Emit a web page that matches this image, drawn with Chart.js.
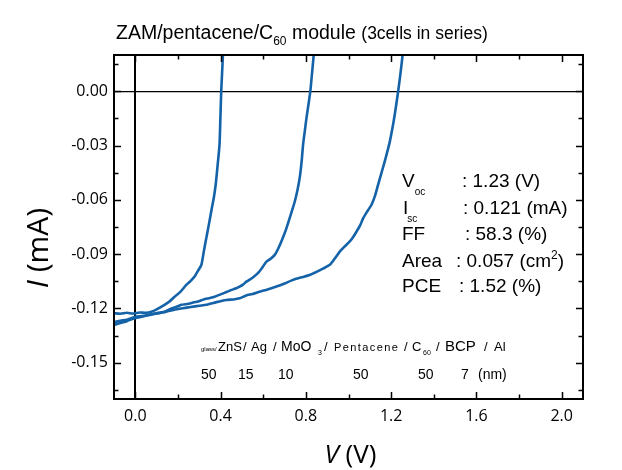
<!DOCTYPE html>
<html><head><meta charset="utf-8">
<script src="https://cdn.jsdelivr.net/npm/chart.js@4.4.0/dist/chart.umd.min.js"></script>
<style>html,body{margin:0;padding:0;background:#fff;}#wrap{width:622px;height:470px;}</style>
</head><body><div id="wrap"><canvas id="c" width="622" height="470"></canvas></div>
<script>
// ---- data ----
const xTicks = [0.0, 0.4, 0.8, 1.2, 1.6, 2.0];
const yTicks = [-0.15, -0.12, -0.09, -0.06, -0.03, 0.00];

// 1 cell
const voltage1 = [-0.10,-0.07,-0.04,-0.01,0.02,0.05,0.075,0.10,0.137,0.16,0.184,0.21,0.239,0.26,0.278,0.295,0.310,0.322,0.333,0.346,0.359,0.368,0.377,0.386,0.395,0.399,0.403,0.407,0.411,0.415];
const current1 = [-0.1226,-0.1229,-0.1224,-0.1228,-0.1222,-0.1224,-0.1218,-0.1205,-0.1180,-0.1162,-0.1135,-0.1110,-0.1070,-0.1048,-0.1024,-0.0990,-0.0959,-0.0880,-0.0811,-0.0730,-0.0645,-0.0590,-0.0516,-0.0410,-0.0295,-0.0150,0.0000,0.0100,0.0203,0.0300];
// 2 cells
const voltage2 = [-0.10,-0.07,-0.04,-0.01,0.004,0.03,0.059,0.09,0.12,0.137,0.17,0.20,0.216,0.25,0.275,0.294,0.32,0.35,0.372,0.40,0.43,0.450,0.47,0.489,0.505,0.521,0.55,0.575,0.595,0.615,0.635,0.654,0.670,0.685,0.705,0.724,0.735,0.748,0.760,0.771,0.780,0.787,0.795,0.803,0.812,0.821,0.829,0.837,0.842];
const current2 = [-0.1276,-0.1268,-0.1262,-0.1250,-0.1245,-0.1242,-0.1236,-0.1228,-0.1222,-0.1218,-0.1200,-0.1188,-0.1180,-0.1174,-0.1166,-0.1162,-0.1150,-0.1142,-0.1135,-0.1122,-0.1108,-0.1098,-0.1090,-0.1079,-0.1068,-0.1052,-0.1030,-0.1005,-0.0975,-0.0941,-0.0925,-0.0904,-0.0870,-0.0830,-0.0770,-0.0701,-0.0660,-0.0609,-0.0550,-0.0479,-0.0390,-0.0295,-0.0220,-0.0147,-0.0075,0.0000,0.0100,0.0203,0.0280];
// 3 cells
const voltage3 = [-0.10,-0.07,-0.04,-0.004,0.03,0.067,0.10,0.145,0.18,0.223,0.26,0.30,0.333,0.38,0.427,0.46,0.489,0.52,0.55,0.583,0.62,0.662,0.70,0.740,0.78,0.818,0.85,0.88,0.912,0.935,0.959,0.98,1.006,1.022,1.038,1.055,1.069,1.090,1.108,1.125,1.139,1.155,1.170,1.183,1.194,1.206,1.217,1.225,1.233,1.244,1.254,1.262];
const current3 = [-0.1292,-0.1280,-0.1270,-0.1254,-0.1245,-0.1236,-0.1228,-0.1218,-0.1208,-0.1199,-0.1192,-0.1185,-0.1180,-0.1165,-0.1153,-0.1150,-0.1144,-0.1128,-0.1120,-0.1107,-0.1095,-0.1079,-0.1062,-0.1042,-0.1028,-0.1015,-0.0998,-0.0980,-0.0959,-0.0925,-0.0886,-0.0860,-0.0830,-0.0805,-0.0775,-0.0740,-0.0701,-0.0660,-0.0627,-0.0575,-0.0516,-0.0450,-0.0387,-0.0330,-0.0277,-0.0205,-0.0129,-0.0065,0.0000,0.0100,0.0203,0.0300];

const LINE = '#1462a8';
const pts = (xs, ys) => xs.map((v, i) => ({x: v, y: ys[i]}));
const isZero = c => c.tick && Math.abs(c.tick.value) < 1e-9;

function drawRuns(ctx, x, y, parts) {
  for (const p of parts) {
    ctx.font = p.f;
    ctx.fillText(p.t, x, y + (p.dy || 0));
    x += ctx.measureText(p.t).width + (p.gap || 0);
  }
  return x;
}
function runsWidth(ctx, parts) {
  let w = 0;
  for (const p of parts) { ctx.font = p.f; w += ctx.measureText(p.t).width + (p.gap || 0); }
  return w;
}

const framePlugin = {
  id: 'frame',
  afterDatasetsDraw(chart) {
    const {ctx, chartArea: a, scales: {x, y}} = chart;
    ctx.save();
    ctx.strokeStyle = '#000';
    ctx.lineWidth = 1.5;
    const hx = (xTicks[1] - xTicks[0]) / 2, hy = (yTicks[1] - yTicks[0]) / 2;
    ctx.beginPath();
    for (let k = -4; k <= 20; k++) {
      const v = xTicks[0] + k * hx;
      if (v < x.min - 1e-9 || v > x.max + 1e-9) continue;
      const L = (k % 2 === 0) ? 7 : 4.5;
      const px = Math.round(x.getPixelForValue(v)) + 0.5;
      ctx.moveTo(px, a.bottom); ctx.lineTo(px, a.bottom - L);
      ctx.moveTo(px, a.top); ctx.lineTo(px, a.top + L);
    }
    for (let k = -4; k <= 20; k++) {
      const v = yTicks[0] + k * hy;
      if (v < y.min - 1e-9 || v > y.max + 1e-9) continue;
      const L = (k % 2 === 0) ? 7 : 4.5;
      const py = Math.round(y.getPixelForValue(v)) + 0.5;
      ctx.moveTo(a.left, py); ctx.lineTo(a.left + L, py);
      ctx.moveTo(a.right, py); ctx.lineTo(a.right - L, py);
    }
    ctx.stroke();
    ctx.lineWidth = 2;
    ctx.strokeRect(a.left, a.top, a.right - a.left, a.bottom - a.top);
    ctx.restore();
  },
  afterDraw(chart) {
    const {ctx, chartArea: a} = chart;
    ctx.save();
    ctx.fillStyle = '#000';
    ctx.textBaseline = 'alphabetic';
    ctx.textAlign = 'left';
    const AR = 'Liberation Sans, Arial, sans-serif';
    // title
    drawRuns(ctx, 116, 39, [
      {t: 'ZAM/pentacene/C', f: `19.5px ${AR}`},
      {t: '60', f: `12px ${AR}`, dy: 6},
      {t: ' module ', f: `19.5px ${AR}`},
      {t: '(3cells in series)', f: `17.5px ${AR}`}
    ]);
    // x axis title
    const OS = 'Open Sans, sans-serif';
    const xt = [{t: 'V', f: `italic 26px ${OS}`}, {t: ' (V)', f: `26px ${OS}`}];
    drawRuns(ctx, (a.left + a.right) / 2 - runsWidth(ctx, xt) / 2 + 2, 463, xt);
    // y axis title
    const yt = [{t: 'I', f: `italic 30px ${OS}`}, {t: ' (mA)', f: `30px ${OS}`}];
    ctx.save();
    ctx.translate(48, 248);
    ctx.rotate(-Math.PI / 2);
    drawRuns(ctx, -runsWidth(ctx, yt) / 2, 0, yt);
    ctx.restore();
    // parameters box
    const F = `19px ${AR}`, S = `10px ${AR}`;
    drawRuns(ctx, 402, 187, [{t: 'V', f: F}, {t: 'oc', f: S, dy: 8}]);
    drawRuns(ctx, 462, 187, [{t: ': 1.23 (V)', f: F}]);
    drawRuns(ctx, 403, 213.5, [{t: 'I', f: F, gap: -1}, {t: 'sc', f: S, dy: 8}]);
    drawRuns(ctx, 463, 213.5, [{t: ': 0.121 (mA)', f: F}]);
    drawRuns(ctx, 402, 240, [{t: 'FF', f: F}]);
    drawRuns(ctx, 465, 240, [{t: ': 58.3 (%)', f: F}]);
    drawRuns(ctx, 402, 266.5, [{t: 'Area', f: F}]);
    drawRuns(ctx, 456, 266.5, [{t: ': 0.057 (cm', f: F}, {t: '2', f: `12px ${AR}`, dy: -8}, {t: ')', f: F}]);
    drawRuns(ctx, 402, 292, [{t: 'PCE', f: F}]);
    drawRuns(ctx, 459, 292, [{t: ': 1.52 (%)', f: F}]);
    // layer stack
    const L = `13px ${AR}`;
    const place = (t, x, y, f) => { ctx.font = f; ctx.fillText(t, x, y); };
    place('glass/', 201, 351, `6px ${AR}`);
    place('ZnS', 218, 351, L);
    place('/', 243, 351, L);
    place('Ag', 251, 351, L);
    place('/', 273, 351, L);
    place('MoO', 281, 351, `14px ${AR}`);
    place('3', 318, 355, `7px ${AR}`);
    place('/', 324, 351, L);
    ctx.save(); ctx.font = `11px ${AR}`;
    if ('letterSpacing' in ctx) ctx.letterSpacing = '1.4px';
    ctx.fillText('Pentacene', 334, 351);
    ctx.restore();
    place('/', 404, 351, L);
    place('C', 412, 351, L);
    place('60', 423, 355, `7px ${AR}`);
    place('/', 436, 351, L);
    place('BCP', 445, 351, `15px ${AR}`);
    place('/', 484, 351, L);
    place('Al', 494, 351, L);
    const N = `14px ${AR}`;
    place('50', 201, 379, N);
    place('15', 238, 379, N);
    place('10', 278, 379, N);
    place('50', 353, 379, N);
    place('50', 418, 379, N);
    place('7', 461, 379, N);
    place('(nm)', 478, 379, N);
    ctx.restore();
  }
};

const ds = (xs, ys) => ({
  data: pts(xs, ys), borderColor: LINE, borderWidth: 2.6, pointRadius: 0,
  tension: 0.2, fill: false, clip: 0
});

new Chart(document.getElementById('c'), {
  type: 'line',
  data: {datasets: [ds(voltage1, current1), ds(voltage2, current2), ds(voltage3, current3)]},
  options: {
    responsive: false, animation: false, devicePixelRatio: 1,
    layout: {padding: {top: 55, right: 39, left: 0, bottom: 0}},
    plugins: {legend: {display: false}, tooltip: {enabled: false}, title: {display: false}},
    scales: {
      x: {
        type: 'linear', min: -0.1, max: 2.1,
        afterBuildTicks: s => { s.ticks = xTicks.map(v => ({value: v})); },
        afterFit: s => { s.height = 71; },
        ticks: {callback: v => Number(v).toFixed(1), font: {family: 'Open Sans', size: 16}, color: '#000', padding: 8, maxRotation: 0, autoSkip: false},
        grid: {drawTicks: false, color: c => isZero(c) ? '#000' : 'rgba(0,0,0,0)', lineWidth: c => isZero(c) ? 2 : 0},
        border: {display: false}
      },
      y: {
        type: 'linear', min: -0.17, max: 0.02,
        afterBuildTicks: s => { s.ticks = yTicks.map(v => ({value: v})); },
        afterFit: s => { s.width = 114; },
        ticks: {callback: v => (Math.abs(v) < 1e-9 ? 0 : Number(v)).toFixed(2), font: {family: 'Open Sans', size: 16}, color: '#000', padding: 6, autoSkip: false},
        grid: {drawTicks: false, color: c => isZero(c) ? '#000' : 'rgba(0,0,0,0)', lineWidth: c => isZero(c) ? 1.3 : 0},
        border: {display: false}
      }
    }
  },
  plugins: [framePlugin]
});
</script></body></html>
